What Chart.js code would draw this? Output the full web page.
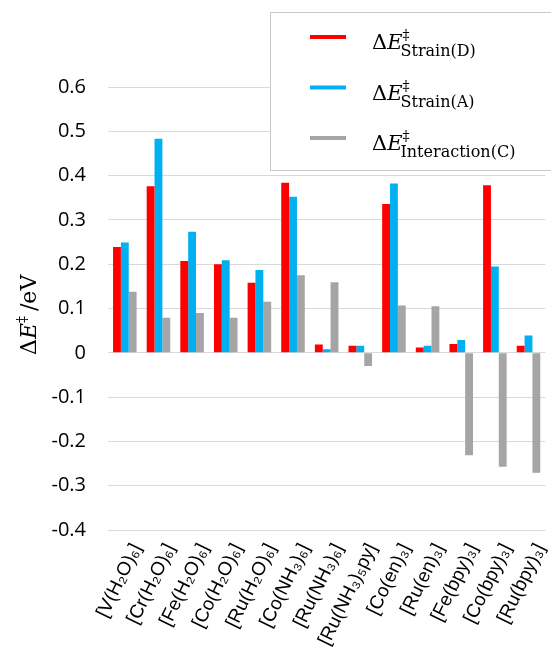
<!DOCTYPE html>
<html>
<head>
<meta charset="utf-8">
<script src="https://cdn.jsdelivr.net/npm/chart.js@4"></script>
<style>
  html, body { margin: 0; padding: 0; background: #fff; }
  #wrap { width: 551px; height: 659px; position: relative; }
</style>
</head>
<body>
<div id="wrap"><canvas id="chart"></canvas></div>
<script>
var complexes = ['[V(H\u2082O)\u2086]', '[Cr(H\u2082O)\u2086]', '[Fe(H\u2082O)\u2086]', '[Co(H\u2082O)\u2086]',
  '[Ru(H\u2082O)\u2086]', '[Co(NH\u2083)\u2086]', '[Ru(NH\u2083)\u2086]', '[Ru(NH\u2083)\u2085py]',
  '[Co(en)\u2083]', '[Ru(en)\u2083]', '[Fe(bpy)\u2083]', '[Co(bpy)\u2083]', '[Ru(bpy)\u2083]'];
var strainD = [0.239, 0.376, 0.207, 0.200, 0.158, 0.384, 0.019, 0.016, 0.336, 0.012, 0.020, 0.378, 0.016];
var strainA = [0.249, 0.483, 0.273, 0.209, 0.187, 0.352, 0.008, 0.016, 0.382, 0.016, 0.029, 0.195, 0.039];
var interactionC = [0.138, 0.079, 0.090, 0.079, 0.115, 0.175, 0.159, -0.030, 0.107, 0.105, -0.231, -0.257, -0.271];
var yMin = -0.4, yMax = 0.6, yStep = 0.1;

var colours = ['#ff0000', '#00b0f0', '#a5a5a5'];
var legendSubs = ['Strain(D)', 'Strain(A)', 'Interaction(C)'];

// legend box with subscripts, drawn on top of the grid like the original
var legendBox = {
  id: 'legendBox',
  afterDraw: function(chart) {
    var ctx = chart.ctx;
    ctx.save();
    ctx.fillStyle = '#fff';
    ctx.fillRect(270, 12, 290, 158);
    ctx.strokeStyle = '#c8c8c8';
    ctx.lineWidth = 1;
    ctx.strokeRect(270.5, 12.5, 290, 158);
    for (var i = 0; i < 3; i++) {
      var y = 37 + i * 50.5;
      ctx.fillStyle = colours[i];
      ctx.fillRect(310, y - 2, 36, 4);
      ctx.fillStyle = '#000';
      ctx.textBaseline = 'alphabetic';
      ctx.font = '21px "DejaVu Serif"';
      ctx.fillText('\u0394', 372, y + 12);
      var x = 372 + ctx.measureText('\u0394').width;
      ctx.font = 'italic 21px "DejaVu Serif"';
      ctx.fillText('E', x, y + 12);
      x += ctx.measureText('E').width;
      ctx.font = '14px "DejaVu Serif"';
      ctx.fillText('\u2021', x, y + 3);
      ctx.font = '16px "DejaVu Serif"';
      ctx.fillText(legendSubs[i], x - 2, y + 19);
    }
    ctx.restore();
  }
};

// rotated y axis title: ΔE‡ /eV
var yTitle = {
  id: 'yTitle',
  afterDraw: function(chart) {
    var ctx = chart.ctx;
    ctx.save();
    ctx.translate(36, 355);
    ctx.rotate(-Math.PI / 2);
    ctx.fillStyle = '#000';
    ctx.font = '22px "DejaVu Serif"';
    ctx.fillText('\u0394', 0, 0);
    var x = ctx.measureText('\u0394').width;
    ctx.font = 'italic 22px "DejaVu Serif"';
    ctx.fillText('E', x, 0);
    x += ctx.measureText('E').width;
    ctx.font = '14px "DejaVu Serif"';
    ctx.fillText('\u2021', x, -9);
    x += ctx.measureText('\u2021').width + 5;
    ctx.font = '22px "DejaVu Serif"';
    ctx.fillText('/eV', x, 0);
    ctx.restore();
  }
};

var ctx = document.getElementById('chart').getContext('2d');
var chart = new Chart(ctx, {
  type: 'bar',
  data: {
    labels: complexes,
    datasets: [
      { label: 'Strain(D)', data: strainD, backgroundColor: colours[0] },
      { label: 'Strain(A)', data: strainA, backgroundColor: colours[1] },
      { label: 'Interaction(C)', data: interactionC, backgroundColor: colours[2] }
    ]
  },
  options: {
    responsive: true,
    maintainAspectRatio: false,
    animation: false,
    layout: { padding: { top: 87, left: 0, right: 0, bottom: 0 } },
    datasets: { bar: { barPercentage: 1, categoryPercentage: 0.7 } },
    plugins: { legend: { display: false }, tooltip: { enabled: false } },
    scales: {
      x: {
        grid: { display: false },
        border: { display: false },
        ticks: {
          autoSkip: false,
          minRotation: 64,
          maxRotation: 64,
          labelOffset: 12,
          padding: 2,
          color: '#000',
          font: { family: '"Liberation Sans"', size: 19 }
        },
        afterFit: function(scale) { scale.height = 129; }
      },
      y: {
        min: yMin,
        max: yMax,
        grid: { color: '#d9d9d9', drawTicks: false },
        border: { display: false },
        ticks: {
          stepSize: yStep,
          padding: 22,
          color: '#000',
          font: { family: '"Open Sans"', size: 20 },
          callback: function(v) { return Math.abs(v) < 1e-9 ? '0' : v.toFixed(1); }
        },
        afterFit: function(scale) { scale.width = 108; }
      }
    }
  },
  plugins: [legendBox, yTitle]
});
</script>
</body>
</html>
